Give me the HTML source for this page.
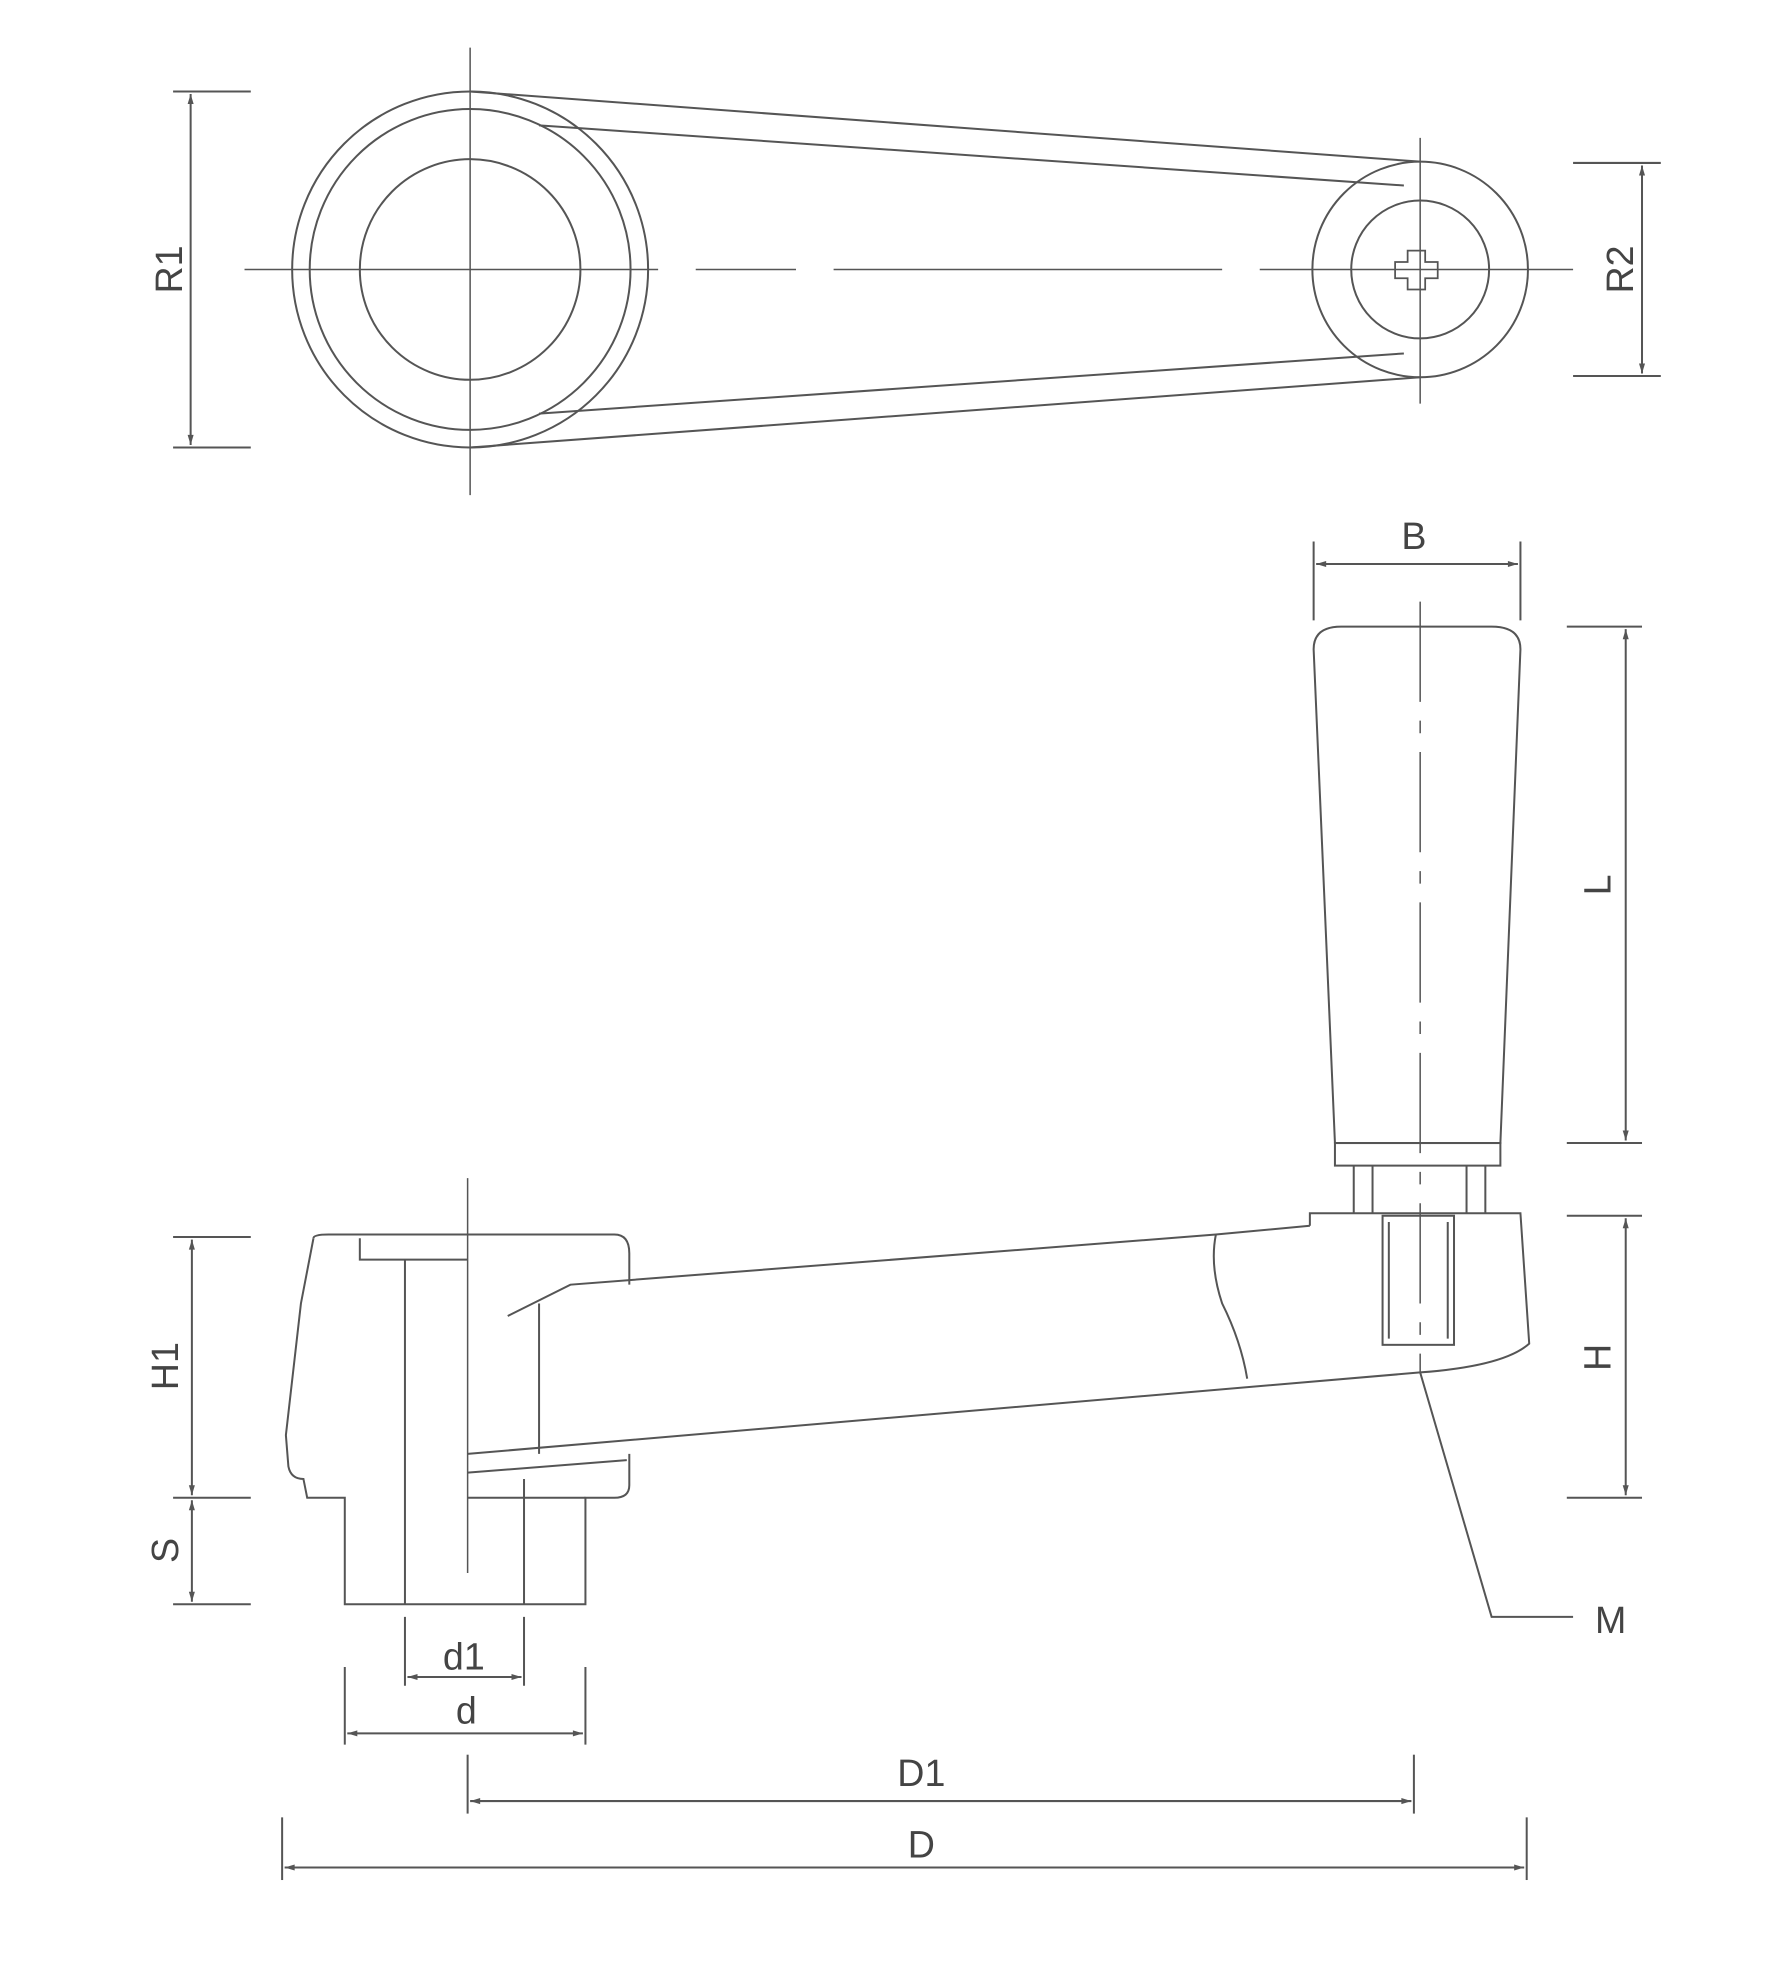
<!DOCTYPE html>
<html><head><meta charset="utf-8"><style>
html,body{margin:0;padding:0;background:#fff}
svg{display:block}
text{font-family:"Liberation Sans",sans-serif;fill:#444;font-size:30px}
</style></head><body>
<svg width="1780" height="1964" viewBox="0 0 1420 1567" xmlns="http://www.w3.org/2000/svg">
<defs>
<marker id="a" viewBox="0 0 10 10" refX="10" refY="5" markerWidth="12" markerHeight="8" orient="auto-start-reverse" markerUnits="userSpaceOnUse"><path d="M0,2 L10,5 L0,8z" fill="#555"/></marker>
</defs>
<g fill="none" stroke="#555" stroke-width="1.6">
<!-- TOP VIEW -->
<circle cx="375" cy="215" r="142"/>
<circle cx="375" cy="215" r="128"/>
<circle cx="375" cy="215" r="88"/>
<circle cx="1133" cy="215" r="86"/>
<circle cx="1133" cy="215" r="55"/>
<line x1="375" y1="73" x2="1133" y2="129"/>
<line x1="430" y1="100" x2="1120" y2="148"/>
<line x1="375" y1="357" x2="1133" y2="301"/>
<line x1="430" y1="330" x2="1120" y2="282"/>
<line x1="195" y1="215" x2="1255" y2="215" stroke-dasharray="330,30,80,30,310,30,500" stroke-width="1.2"/>
<line x1="375" y1="38" x2="375" y2="395" stroke-width="1.2"/>
<line x1="1133" y1="110" x2="1133" y2="322" stroke-width="1.2"/>
<path d="M1123,200 h14 v9 h10 v13 h-10 v9 h-14 v-9 h-10 v-13 h10z" stroke-width="1.4"/>
<line x1="138" y1="73" x2="200" y2="73"/><line x1="138" y1="357" x2="200" y2="357"/>
<line x1="152" y1="75" x2="152" y2="355" marker-start="url(#a)" marker-end="url(#a)"/>
<line x1="1255" y1="130" x2="1325" y2="130"/><line x1="1255" y1="300" x2="1325" y2="300"/>
<line x1="1310" y1="132" x2="1310" y2="298" marker-start="url(#a)" marker-end="url(#a)"/>

<!-- SIDE VIEW: handle -->
<path d="M1065,912 L1048,518 Q1048,500 1070,500 L1190,500 Q1213,500 1213,518 L1197,912 Z"/>
<rect x="1065" y="912" width="132" height="18"/>
<path d="M1080,930 L1080,968 M1185,930 L1185,968 M1095,930 L1095,968 M1170,930 L1170,968"/>
<line x1="1133" y1="480" x2="1133" y2="1095" stroke-dasharray="80,15,10,15" stroke-width="1.2"/>
<line x1="1048" y1="432" x2="1048" y2="495"/><line x1="1213" y1="432" x2="1213" y2="495"/>
<line x1="1050" y1="450" x2="1211" y2="450" marker-start="url(#a)" marker-end="url(#a)"/>
<line x1="1250" y1="500" x2="1310" y2="500"/><line x1="1250" y1="912" x2="1310" y2="912"/>
<line x1="1297" y1="502" x2="1297" y2="910" marker-start="url(#a)" marker-end="url(#a)"/>

<!-- arm & hub -->
<path d="M1045,978 L1045,968 L1213,968 L1220,1072 Q1200,1090 1133,1095 L373,1160"/>
<path d="M1045,978 L970,985 L455,1025 L405,1050"/>
<path d="M970,985 Q965,1010 975,1040 Q990,1070 995,1100"/>
<line x1="430" y1="1040" x2="430" y2="1160"/>
<line x1="373" y1="1175" x2="500" y2="1165"/>
<path d="M250,988 Q250,985 262,985 L490,985 Q502,985 502,1000 L502,1025"/>
<path d="M250,988 L240,1040 L228,1145 L230,1170 Q232,1180 242,1180 L245,1195 L275,1195 L275,1280 L467,1280 L467,1195 L490,1195 Q502,1195 502,1185 L502,1160"/>
<path d="M287,988 L287,1005 L373,1005"/>
<line x1="323" y1="1005" x2="323" y2="1280"/>
<line x1="418" y1="1180" x2="418" y2="1280"/>
<line x1="373" y1="1195" x2="467" y2="1195"/>
<line x1="373" y1="940" x2="373" y2="1255" stroke-width="1.2"/>
<rect x="1103" y="970" width="57" height="103"/>
<line x1="1108" y1="975" x2="1108" y2="1068"/><line x1="1155" y1="975" x2="1155" y2="1068"/>
<path d="M1133,1095 L1190,1290 L1255,1290"/>

<!-- side dims -->
<line x1="1250" y1="970" x2="1310" y2="970"/><line x1="1250" y1="1195" x2="1310" y2="1195"/>
<line x1="1297" y1="972" x2="1297" y2="1193" marker-start="url(#a)" marker-end="url(#a)"/>
<line x1="138" y1="987" x2="200" y2="987"/><line x1="138" y1="1195" x2="200" y2="1195"/><line x1="138" y1="1280" x2="200" y2="1280"/>
<line x1="153" y1="989" x2="153" y2="1193" marker-start="url(#a)" marker-end="url(#a)"/>
<line x1="153" y1="1197" x2="153" y2="1278" marker-start="url(#a)" marker-end="url(#a)"/>
<line x1="323" y1="1290" x2="323" y2="1345"/><line x1="418" y1="1290" x2="418" y2="1345"/>
<line x1="325" y1="1338" x2="416" y2="1338" marker-start="url(#a)" marker-end="url(#a)"/>
<line x1="275" y1="1330" x2="275" y2="1392"/><line x1="467" y1="1330" x2="467" y2="1392"/>
<line x1="277" y1="1383" x2="465" y2="1383" marker-start="url(#a)" marker-end="url(#a)"/>
<line x1="373" y1="1400" x2="373" y2="1447"/><line x1="1128" y1="1400" x2="1128" y2="1447"/>
<line x1="375" y1="1437" x2="1126" y2="1437" marker-start="url(#a)" marker-end="url(#a)"/>
<line x1="225" y1="1450" x2="225" y2="1500"/><line x1="1218" y1="1450" x2="1218" y2="1500"/>
<line x1="227" y1="1490" x2="1216" y2="1490" marker-start="url(#a)" marker-end="url(#a)"/>
</g>
<text x="135" y="215" text-anchor="middle" transform="rotate(-90 135 215)" dy="10">R1</text>
<text x="1293" y="215" text-anchor="middle" transform="rotate(-90 1293 215)" dy="10">R2</text>
<text x="1128" y="438" text-anchor="middle">B</text>
<text x="1275" y="706" text-anchor="middle" transform="rotate(-90 1275 706)" dy="10">L</text>
<text x="1275" y="1083" text-anchor="middle" transform="rotate(-90 1275 1083)" dy="10">H</text>
<text x="132" y="1090" text-anchor="middle" transform="rotate(-90 132 1090)" dy="10">H1</text>
<text x="132" y="1237" text-anchor="middle" transform="rotate(-90 132 1237)" dy="10">S</text>
<text x="1285" y="1303" text-anchor="middle">M</text>
<text x="370" y="1332" text-anchor="middle">d1</text>
<text x="372" y="1375" text-anchor="middle">d</text>
<text x="735" y="1425" text-anchor="middle">D1</text>
<text x="735" y="1482" text-anchor="middle">D</text>
</svg>
</body></html>
